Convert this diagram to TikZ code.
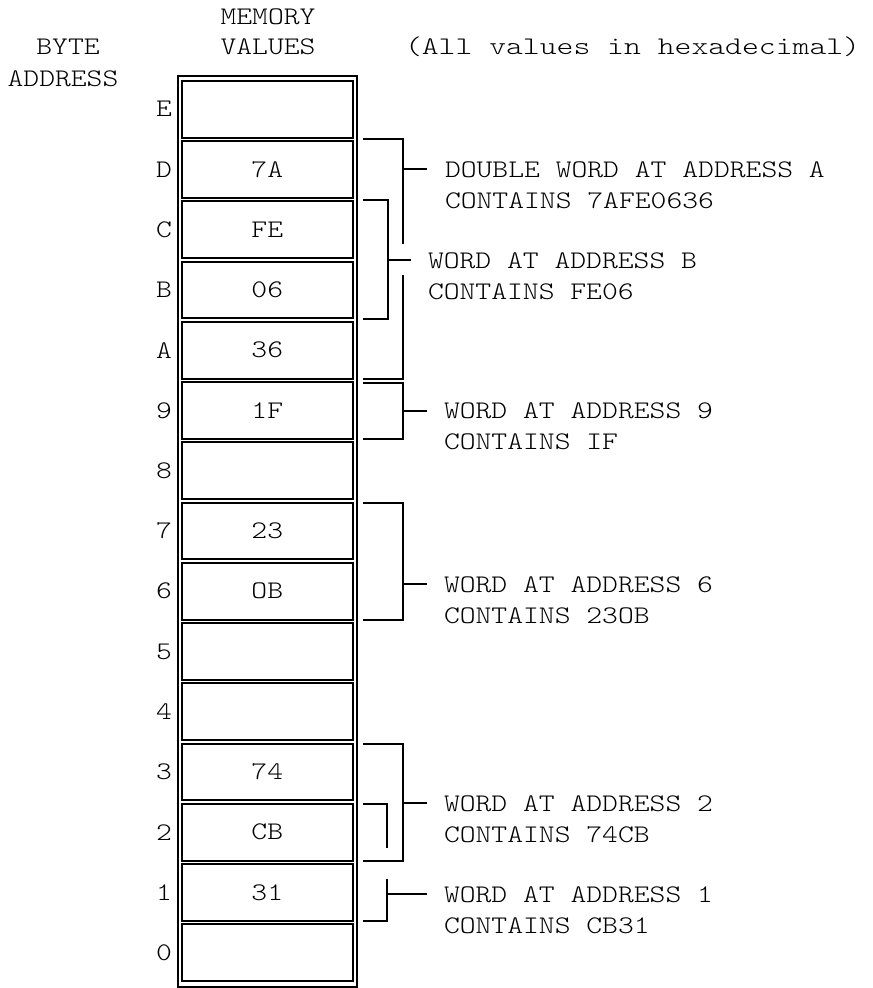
\documentclass[tikz,border=0pt]{standalone}
\usepackage{fontspec}
\setmonofont{lmmonolt10-regular.otf}[FakeStretch=1.19]
\begin{document}
\begin{tikzpicture}[x=0.75pt,y=-0.75pt,
  every node/.style={font=\ttfamily\fontsize{19}{22}\selectfont, inner sep=0pt, outer sep=0pt},
  cell/.style={draw, line width=1.5pt, minimum width=128.6pt, minimum height=42.4pt},
  addr/.style={},
  lbl/.style={anchor=base west},
  brk/.style={line width=1.5pt},
  frame/.style={line width=1.5pt}]
\useasboundingbox (0,0) rectangle (873,988);
% outer frame
\draw[frame] (177.5,75.7) rectangle (357,986.5);
% cells
\foreach \i/\v/\a in {14//E,13/7A/D,12/FE/C,11/06/B,10/36/A,9/1F/9,8//8,7/23/7,6/OB/6,5//5,4//4,3/74/3,2/CB/2,1/31/1,0//0}{
  \pgfmathsetmacro\cy{81+(14-\i)*60.25+28.25}
  \node[cell] (c\i) at (267.25,\cy) {\v};
  \node[addr] (a\i) at (164,\cy) {\a};
}
% headers
\node[anchor=base] (hmem) at (268,25) {MEMORY};
\node[anchor=base] (hval) at (268,55) {VALUES};
\node[anchor=base] (hbyte) at (68,55) {BYTE};
\node[anchor=base] (haddr) at (63,87) {ADDRESS};
\node[lbl] (hnote) at (405,55) {\scalebox{1.065}[1]{(All values in hexadecimal)}};
% bracket: double word at A
\draw[brk] (363,139) -| (403,244);
\draw[brk] (403,275) |- (363,378.5);
\draw[brk] (403,169) -- (427,169);
\node[lbl] (t1a) at (445,177) {DOUBLE WORD AT ADDRESS A};
\node[lbl] (t1b) at (445,208) {CONTAINS 7AFE0636};
% bracket: word at B
\draw[brk] (363,200) -| (388,318.5) -- (363,318.5);
\draw[brk] (388,260) -- (411,260);
\node[lbl] (t2a) at (428,268) {WORD AT ADDRESS B};
\node[lbl] (t2b) at (428,299) {CONTAINS FE06};
% bracket: word at 9
\draw[brk] (363,382.5) -| (403,439) -- (363,439);
\draw[brk] (403,410.5) -- (427,410.5);
\node[lbl] (t3a) at (444,418.5) {WORD AT ADDRESS 9};
\node[lbl] (t3b) at (444,449.5) {CONTAINS IF};
% bracket: word at 6
\draw[brk] (363,503) -| (403,619.5) -- (363,619.5);
\draw[brk] (403,584) -- (427,584);
\node[lbl] (t4a) at (444,592) {WORD AT ADDRESS 6};
\node[lbl] (t4b) at (444,623) {CONTAINS 23OB};
% bracket: word at 2
\draw[brk] (363,743.5) -| (403,861) -- (363,861);
\draw[brk] (403,803) -- (427,803);
\node[lbl] (t5a) at (444,811) {WORD AT ADDRESS 2};
\node[lbl] (t5b) at (444,842) {CONTAINS 74CB};
% bracket: word at 1
\draw[brk] (363,804) -| (387,848);
\draw[brk] (387,879) |- (363,921);
\draw[brk] (387,894) -- (427,894);
\node[lbl] (t6a) at (444,902) {WORD AT ADDRESS 1};
\node[lbl] (t6b) at (444,933) {CONTAINS CB31};
\end{tikzpicture}
\end{document}
